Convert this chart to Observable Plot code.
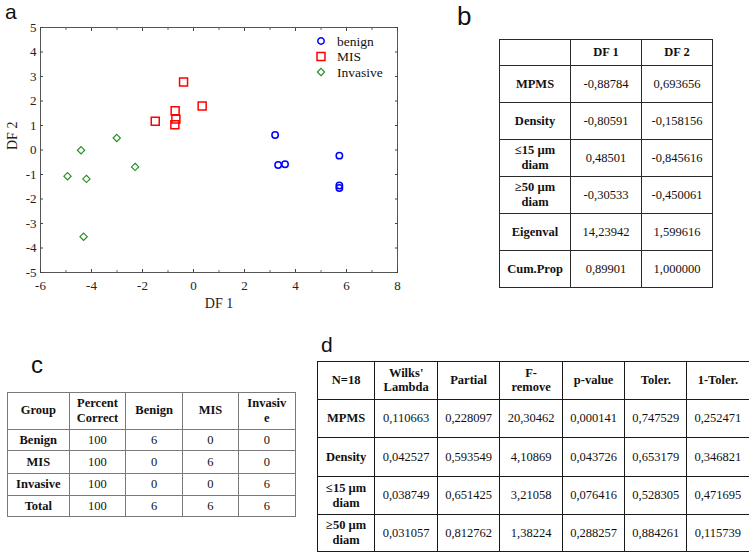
<!DOCTYPE html>
<html>
<head>
<meta charset="utf-8">
<script src="https://cdn.jsdelivr.net/npm/d3@7"></script>
<script src="https://cdn.jsdelivr.net/npm/@observablehq/plot@0.6"></script>
<style>
html, body { margin: 0; padding: 0; background: #fff; }
#page { position: relative; width: 749px; height: 552px; overflow: hidden; background: #fff;
  font-family: "Liberation Serif", "Tinos", "Times New Roman", "DejaVu Serif", serif; color: #111; }
#plotA { position: absolute; left: 0; top: 0; }
#overlay { position: absolute; left: 0; top: 0; pointer-events: none; }
table.t { position: absolute; border-collapse: collapse; table-layout: fixed;
  font-family: "Liberation Serif", "Tinos", "Times New Roman", "DejaVu Serif", serif; font-size: 12.5px; color: #111; }
table.t td { text-align: center; vertical-align: middle; padding: 0; line-height: 1.18; overflow: hidden; }
table.t td.b { font-weight: bold; }
</style>
</head>
<body>
<div id="page">
  <div id="plotA"></div>
</div>
<script>
// ---------------- data ----------------
const groups = ["benign", "MIS", "Invasive"];
const groupColors = ["#0000ff", "#ff0000", "#1e8c1e"];
const groupSymbols = ["circle", "square", "diamond2"];

const benignDF1 = [3.20, 3.32, 3.59, 5.72, 5.72, 5.72];
const benignDF2 = [0.61, -0.61, -0.58, -0.23, -1.45, -1.55];
const misDF1 = [-0.39, 0.34, -0.72, -0.69, -0.73, -1.50];
const misDF2 = [2.78, 1.80, 1.60, 1.26, 1.03, 1.17];
const invasiveDF1 = [-4.41, -3.01, -2.29, -4.94, -4.20, -4.31];
const invasiveDF2 = [-0.01, 0.49, -0.69, -1.07, -1.18, -3.54];

const xMajorTicks = [-6, -4, -2, 0, 2, 4, 6, 8];
const xMinorTicks = [-5, -3, -1, 1, 3, 5, 7];
const yMajorTicks = [-5, -4, -3, -2, -1, 0, 1, 2, 3, 4, 5];
const xTitle = "DF 1";
const yTitle = "DF 2";

// panel b: standardized coefficients
const coefHeader = ["", "DF 1", "DF 2"];
const coefRowLabels = ["MPMS", "Density", "≤15 µm\ndiam", "≥50 µm\ndiam", "Eigenval", "Cum.Prop"];
const coefDF1 = ["-0,88784", "-0,80591", "0,48501", "-0,30533", "14,23942", "0,89901"];
const coefDF2 = ["0,693656", "-0,158156", "-0,845616", "-0,450061", "1,599616", "1,000000"];

// panel c: classification matrix
const classHeader = ["Group", "Percent\nCorrect", "Benign", "MIS", "Invasiv\ne"];
const classGroups = ["Benign", "MIS", "Invasive", "Total"];
const percentCorrect = ["100", "100", "100", "100"];
const predBenign = ["6", "0", "0", "6"];
const predMIS = ["0", "6", "0", "6"];
const predInvasive = ["0", "0", "6", "6"];

// panel d: discriminant function summary
const sumHeader = ["N=18", "Wilks'\nLambda", "Partial", "F-\nremove", "p-value", "Toler.", "1-Toler."];
const sumRowLabels = ["MPMS", "Density", "≤15 µm\ndiam", "≥50 µm\ndiam"];
const wilksLambda = ["0,110663", "0,042527", "0,038749", "0,031057"];
const partialLambda = ["0,228097", "0,593549", "0,651425", "0,812762"];
const fRemove = ["20,30462", "4,10869", "3,21058", "1,38224"];
const pValue = ["0,000141", "0,043726", "0,076416", "0,288257"];
const toler = ["0,747529", "0,653179", "0,528305", "0,884261"];
const oneMinusToler = ["0,252471", "0,346821", "0,471695", "0,115739"];

// ---------------- scatter plot (panel a) ----------------
const serif = "'Liberation Serif', 'Tinos', 'Times New Roman', 'DejaVu Serif', serif";
const seriesX = [benignDF1, misDF1, invasiveDF1];
const seriesY = [benignDF2, misDF2, invasiveDF2];
const points = [];
groups.forEach((g, gi) => seriesX[gi].forEach((x, i) => points.push({group: g, x, y: seriesY[gi][i]})));

const radius = {benign: 3.2, MIS: 4.5, Invasive: 3.3};
const sw = {benign: 1.5, MIS: 1.5, Invasive: 1.1};
const fmt = d => String(d);

const chart = Plot.plot({
  width: 420, height: 320,
  marginLeft: 40, marginRight: 23, marginTop: 27, marginBottom: 48,
  style: {fontFamily: serif, fontSize: "13px", color: "#222", background: "transparent", overflow: "visible"},
  x: {domain: [-6, 8]},
  y: {domain: [-5, 5]},
  marks: [
    Plot.frame({stroke: "#555", strokeWidth: 1}),
    Plot.axisX(xMajorTicks, {anchor: "bottom", tickSize: -3, tickPadding: 11, tickFormat: fmt, label: null, stroke: "#444", fontFamily: serif}),
    Plot.axisX(xMinorTicks, {anchor: "bottom", tickSize: -2, tickFormat: () => "", label: null, stroke: "#666"}),
    Plot.axisX(xMajorTicks, {anchor: "top", tickSize: -3, tickFormat: () => "", label: null, stroke: "#444"}),
    Plot.axisX(xMinorTicks, {anchor: "top", tickSize: -2, tickFormat: () => "", label: null, stroke: "#666"}),
    Plot.axisY(yMajorTicks, {anchor: "left", tickSize: -3, tickPadding: 7, tickFormat: fmt, label: null, stroke: "#444", fontFamily: serif}),
    Plot.axisY(yMajorTicks, {anchor: "right", tickSize: -3, tickFormat: () => "", label: null, stroke: "#444"}),
    Plot.text([xTitle], {frameAnchor: "bottom", dy: 35, text: d => d, fontSize: 14, fill: "#222", fontFamily: serif}),
    Plot.text([yTitle], {frameAnchor: "left", dx: -28, rotate: -90, text: d => d, fontSize: 14, fill: "#222", fontFamily: serif}),
    ...groups.map((g, gi) => Plot.dot(points.filter(p => p.group === g), {
      x: "x", y: "y", symbol: groupSymbols[gi], r: radius[g], stroke: groupColors[gi],
      strokeWidth: sw[g], fill: "none"
    }))
  ]
});
document.getElementById("plotA").appendChild(chart);

// ---------------- overlay: panel letters and in-plot legend ----------------
const page = document.getElementById("page");
const ov = d3.select(page).append("svg").attr("id", "overlay").attr("width", 749).attr("height", 552);
const letters = [
  {t: "a", x: 5, y: 19, s: 21},
  {t: "b", x: 457, y: 25, s: 26},
  {t: "c", x: 31, y: 373, s: 24},
  {t: "d", x: 321, y: 352, s: 21}
];
ov.selectAll("text.letter").data(letters).join("text").attr("class", "letter")
  .attr("x", d => d.x).attr("y", d => d.y).attr("font-size", d => d.s)
  .style("font-family", "'Liberation Sans', Arimo, Arial, sans-serif").attr("fill", "#111").text(d => d.t);

const symMap = {circle: d3.symbolCircle, square: d3.symbolSquare, diamond2: d3.symbolDiamond2};
const leg = ov.append("g");
groups.forEach((g, gi) => {
  const cy = 41 + gi * 15.5;
  leg.append("path")
    .attr("d", d3.symbol(symMap[groupSymbols[gi]], Math.PI * radius[g] * radius[g])())
    .attr("transform", `translate(321,${cy})`)
    .attr("fill", "none").attr("stroke", groupColors[gi]).attr("stroke-width", sw[g]);
  leg.append("text").attr("x", 337).attr("y", cy + 4.5)
    .style("font-family", serif).attr("font-size", 13.5)
    .attr("fill", "#111").text(g);
});

// ---------------- tables ----------------
function cellHTML(s) { return s.split("\n").map(x => x.replace(/&/g, "&amp;").replace(/</g, "&lt;")).join("<br>"); }
function makeTable({left, top, cols, rows, data, border, boldFirstCol = true}) {
  const tbl = document.createElement("table");
  tbl.className = "t";
  tbl.style.left = left + "px";
  tbl.style.top = top + "px";
  tbl.style.width = cols.reduce((a, b) => a + b, 0) + "px";
  const cg = document.createElement("colgroup");
  cols.forEach(w => { const c = document.createElement("col"); c.style.width = w + "px"; cg.appendChild(c); });
  tbl.appendChild(cg);
  data.forEach((row, ri) => {
    const tr = document.createElement("tr");
    tr.style.height = rows[ri] + "px";
    row.forEach((v, ci) => {
      const td = document.createElement("td");
      td.style.border = border;
      if (ri === 0 || (boldFirstCol && ci === 0)) td.className = "b";
      td.innerHTML = cellHTML(v);
      tr.appendChild(td);
    });
    tbl.appendChild(tr);
  });
  page.appendChild(tbl);
}

// panel b
makeTable({
  left: 499, top: 39, cols: [71, 71, 71], rows: [26, 37, 37, 37, 37, 37, 37],
  border: "1.5px solid #2a2a2a",
  data: [coefHeader, ...coefRowLabels.map((r, i) => [r, coefDF1[i], coefDF2[i]])]
});

// panel c
makeTable({
  left: 7, top: 392, cols: [61.6, 56.7, 56.7, 56, 56.6], rows: [36.6, 21.7, 22.3, 22, 21.7],
  border: "1.5px solid #7a7a7a",
  data: [classHeader, ...classGroups.map((g, i) => [g, percentCorrect[i], predBenign[i], predMIS[i], predInvasive[i]])]
});

// panel d
makeTable({
  left: 317, top: 361, cols: [57.3, 62.7, 62.3, 62.7, 62.3, 62, 62.3], rows: [37.6, 38.4, 39, 38.3, 36.7],
  border: "1.5px solid #1a1a1a",
  data: [sumHeader, ...sumRowLabels.map((r, i) => [r, wilksLambda[i], partialLambda[i], fRemove[i], pValue[i], toler[i], oneMinusToler[i]])]
});
</script>
</body>
</html>
